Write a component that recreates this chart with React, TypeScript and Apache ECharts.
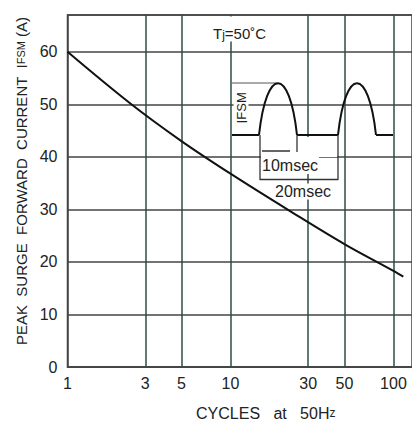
import React, { useEffect, useRef } from "react";
import * as echarts from "echarts";

const cycles = [1, 2.42, 5, 10, 24, 50, 100, 115];
const current = [60, 50.2, 43, 36.8, 29.4, 23.4, 18.3, 17.2];
const xTicks = [1, 3, 5, 10, 30, 50, 100];
const xGridLines = [3, 5, 10, 30, 50, 100];

const FONT = "'Liberation Sans', Arial, Helvetica, sans-serif";
const TXT = "#222";
const HGRID = "#444";
const VGRID = "#2f4c49";

export default function App() {
  const ref = useRef<HTMLDivElement>(null);
  useEffect(() => {
    if (!ref.current) return;
    const chart = echarts.init(ref.current, null, { renderer: "svg" });
    const ink = "#111";
    const dim = "#333";
    chart.setOption({
      animation: false,
      backgroundColor: "#fff",
      grid: {
        left: 67.5,
        top: 15,
        right: -3,
        bottom: 55.3,
        show: true,
        borderColor: HGRID,
        borderWidth: 1.5,
        backgroundColor: "transparent",
      },
      xAxis: {
        type: "log",
        logBase: 10,
        min: 1,
        max: 130,
        name: "CYCLES   at   50H{s|z}",
        nameLocation: "middle",
        nameGap: 38,
        nameTextStyle: {
          fontFamily: FONT,
          fontSize: 16,
          color: TXT,
          padding: [0, 0, 0, 52],
          rich: { s: { fontFamily: FONT, fontSize: 12, color: TXT } },
        },
        axisLine: { show: true, lineStyle: { color: HGRID, width: 1.5 } },
        axisTick: { show: false },
        splitLine: { show: false },
        minorTick: { show: false },
        minorSplitLine: { show: false },
        axisLabel: {
          customValues: xTicks,
          fontFamily: FONT,
          fontSize: 16,
          color: TXT,
          margin: 8,
          formatter: (v: number) => String(Math.round(v)),
        },
      },
      yAxis: {
        type: "value",
        min: 0,
        max: 67,
        interval: 10,
        name: "PEAK  SURGE  FORWARD  CURRENT  I{s|FSM} (A)",
        nameLocation: "middle",
        nameRotate: 90,
        nameGap: 31,
        nameTextStyle: {
          fontFamily: FONT,
          fontSize: 15,
          color: TXT,
          padding: [0, 0, 0, 20],
          rich: { s: { fontFamily: FONT, fontSize: 11, color: TXT } },
        },
        axisLine: { show: true, lineStyle: { color: HGRID, width: 1.5 } },
        axisTick: { show: false },
        splitLine: { show: true, lineStyle: { color: HGRID, width: 1.5 } },
        axisLabel: {
          fontFamily: FONT,
          fontSize: 16,
          color: TXT,
          margin: 10,
          showMaxLabel: false,
        },
      },
      series: [
        {
          type: "line",
          z: 1,
          data: [],
          silent: true,
          markLine: {
            z: 1,
            silent: true,
            symbol: "none",
            label: { show: false },
            lineStyle: { color: VGRID, width: 1.5, type: "solid" },
            data: xGridLines.map((v) => ({ xAxis: v })),
          },
        },
        {
          type: "line",
          z: 2,
          smooth: 0.35,
          symbol: "none",
          data: cycles.map((c, i) => [c, current[i]]),
          lineStyle: { color: ink, width: 2 },
        },
      ],
      graphic: [
        { type: "rect", z: 1.5, shape: { x: 210, y: 16.5, width: 62, height: 25 }, style: { fill: "#fff" } },
        { type: "rect", z: 1.5, shape: { x: 298, y: 137, width: 39, height: 20 }, style: { fill: "#fff" } },
        {
          type: "text",
          z: 3,
          x: 213,
          y: 33,
          style: {
            text: "T{j|j}=50˚C",
            fontFamily: FONT,
            fontSize: 15,
            fill: TXT,
            verticalAlign: "middle",
            rich: { j: { fontFamily: FONT, fontSize: 12, fill: TXT, padding: [4, 0, 0, 0] } },
          },
        },
        { type: "line", z: 3, shape: { x1: 232, y1: 83, x2: 277, y2: 83 }, style: { stroke: "#555", lineWidth: 1 } },
        {
          type: "text",
          z: 3,
          x: 241,
          y: 108,
          rotation: Math.PI / 2,
          style: {
            text: "I{s|FSM}",
            fontFamily: FONT,
            fontSize: 15,
            fill: TXT,
            align: "center",
            verticalAlign: "middle",
            backgroundColor: "#fff",
            rich: { s: { fontFamily: FONT, fontSize: 13, fill: TXT } },
          },
        },
        { type: "polyline", z: 3, shape: { points: [[232, 135], [259, 135]] }, style: { stroke: ink, lineWidth: 2, fill: "none" } },
        {
          type: "bezierCurve",
          z: 3,
          shape: { x1: 259, y1: 135, cpx1: 266.6, cpy1: 66, cpx2: 289.4, cpy2: 66, x2: 297, y2: 135 },
          style: { stroke: ink, lineWidth: 2, fill: "none" },
        },
        { type: "polyline", z: 3, shape: { points: [[297, 135], [338, 135]] }, style: { stroke: ink, lineWidth: 2, fill: "none" } },
        {
          type: "bezierCurve",
          z: 3,
          shape: { x1: 338, y1: 135, cpx1: 345.6, cpy1: 66, cpx2: 368.4, cpy2: 66, x2: 376, y2: 135 },
          style: { stroke: ink, lineWidth: 2, fill: "none" },
        },
        { type: "polyline", z: 3, shape: { points: [[376, 135], [393, 135]] }, style: { stroke: ink, lineWidth: 2, fill: "none" } },
        { type: "line", z: 3, shape: { x1: 260, y1: 135, x2: 260, y2: 180 }, style: { stroke: dim, lineWidth: 1.3 } },
        { type: "line", z: 3, shape: { x1: 297, y1: 135, x2: 297, y2: 152 }, style: { stroke: dim, lineWidth: 1.3 } },
        { type: "line", z: 3, shape: { x1: 338, y1: 135, x2: 338, y2: 180 }, style: { stroke: dim, lineWidth: 1.3 } },
        { type: "line", z: 3, shape: { x1: 262, y1: 151, x2: 290, y2: 151 }, style: { stroke: "#666", lineWidth: 2 } },
        { type: "line", z: 3, shape: { x1: 260, y1: 179.5, x2: 338, y2: 179.5 }, style: { stroke: dim, lineWidth: 1.3 } },
        {
          type: "text",
          z: 3,
          x: 261,
          y: 165,
          style: {
            text: "10msec",
            fontFamily: FONT,
            fontSize: 16,
            fill: TXT,
            verticalAlign: "middle",
            backgroundColor: "#fff",
            padding: [1, 1],
          },
        },
        {
          type: "text",
          z: 3,
          x: 274,
          y: 191.5,
          style: {
            text: "20msec",
            fontFamily: FONT,
            fontSize: 16,
            fill: TXT,
            verticalAlign: "middle",
            backgroundColor: "#fff",
            padding: [0, 1],
          },
        },
      ],
    });
    return () => chart.dispose();
  }, []);
  return (
    <div
      ref={ref}
      style={{ position: "absolute", left: 0, top: 0, width: 412, height: 426 }}
    />
  );
}
